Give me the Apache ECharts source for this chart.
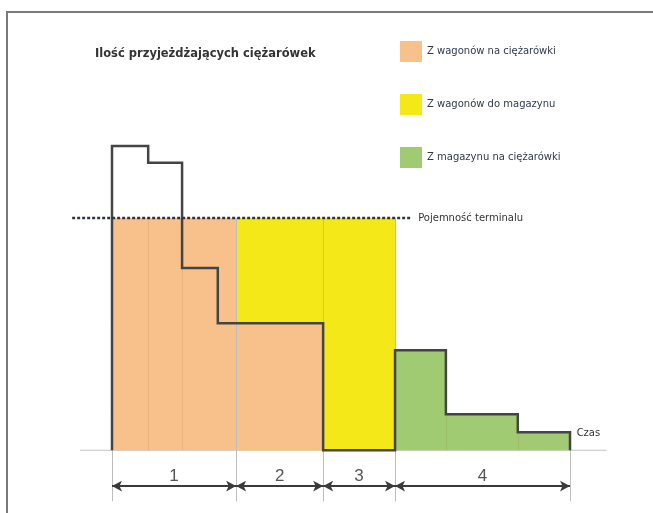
<!DOCTYPE html>
<html lang="pl">
<head>
    <meta charset="UTF-8">
    <title>Ilość przyjeżdżających ciężarówek</title>
    <style>
        * { padding: 0; margin: 0; }
        html, body { width: 100%; height: 100%; background: #fff; }
        #main { width: 653px; height: 513px; }
    </style>
</head>
<body>
    <div id="main"></div>
    <script src="https://cdn.jsdelivr.net/npm/echarts@6/dist/echarts.min.js"></script>
    <script>
        // czas w umownych jednostkach 0..100, ilość w % pojemności terminalu
        var capacity = 100;
        var phaseEdges = [0, 27.1, 46.1, 61.8, 100];
        var phaseLabels = ['1', '2', '3', '4'];
        // schodki przyjazdów: [od, do, ilość]
        var arrivals = [
            [0, 7.9, 131], [7.9, 15.3, 123.7], [15.3, 23.1, 78.4], [23.1, 46.1, 54.7],
            [46.1, 61.8, 0], [61.8, 72.9, 43.1], [72.9, 88.6, 15.5], [88.6, 100, 7.8]
        ];
        var wagonsToTrucks = [[0, 27.1, 100], [27.1, 46.1, 54.7]];
        var wagonsToStore = [[27.1, 61.8, 100]];
        var storeToTrucks = [[61.8, 72.9, 43.1], [72.9, 88.6, 15.5], [88.6, 100, 7.8]];
        var seriesNames = ['Z wagonów na ciężarówki', 'Z wagonów do magazynu', 'Z magazynu na ciężarówki'];
        var seriesColors = ['#F8C18C', '#F5E819', '#A0CB73'];

        // zamiana schodków na łamaną
        function stepPoints(steps, closed) {
            var pts = [];
            if (closed) pts.push([steps[0][0], 0]);
            steps.forEach(function (s) {
                pts.push([s[0], s[2]]);
                pts.push([s[1], s[2]]);
            });
            pts.push([steps[steps.length - 1][1], 0]);
            return pts;
        }

        var myChart = echarts.init(document.getElementById('main'));

        function areaSeries(name, steps, color, z) {
            return {
                name: name,
                type: 'line',
                data: stepPoints(steps, false),
                symbol: 'none',
                color: color,
                z: z,
                lineStyle: { width: 0 },
                areaStyle: { color: color, opacity: 1 }
            };
        }

        // cienkie pionowe linie podziału faz i schodków
        var dividers = phaseEdges.map(function (x) {
            var top = capacity;
            if (x === 100) top = arrivals[arrivals.length - 1][2];
            return [{ coord: [x, top] }, { coord: [x, -22] }];
        });
        var innerEdges = [[7.9, 100], [15.3, 100], [72.9, 15.5], [88.6, 7.8]].map(function (e) {
            return [{ coord: [e[0], e[1]] }, { coord: [e[0], 0] }];
        });
        var arrows = phaseLabels.map(function (lab, i) {
            return [{ coord: [phaseEdges[i], -15.4], name: lab }, { coord: [phaseEdges[i + 1], -15.4] }];
        });

        var option = {
            animation: false,
            backgroundColor: '#fff',
            title: {
                text: 'Ilość przyjeżdżających ciężarówek',
                left: 90,
                top: 43,
                textStyle: { color: '#333', fontSize: 11.5, fontWeight: 'bold', fontFamily: 'DejaVu Sans' }
            },
            legend: {
                data: seriesNames,
                orient: 'vertical',
                left: 395,
                top: 36,
                itemWidth: 22,
                itemHeight: 21,
                itemGap: 32,
                icon: 'rect',
                selectedMode: false,
                textStyle: { color: '#2e3a4a', fontSize: 10, fontFamily: 'DejaVu Sans' }
            },
            grid: { left: 66.2, right: 37.2, top: 125, bottom: 0 },
            xAxis: { type: 'value', min: -10, max: 110, show: false },
            yAxis: { type: 'value', min: -27, max: 140, show: false },
            graphic: [{
                type: 'rect',
                shape: { x: 7, y: 12, width: 700, height: 600 },
                style: { fill: 'none', stroke: '#7a7a7a', lineWidth: 2 },
                silent: true
            }],
            series: [
                areaSeries(seriesNames[1], wagonsToStore, seriesColors[1], 2),
                areaSeries(seriesNames[0], wagonsToTrucks, seriesColors[0], 3),
                areaSeries(seriesNames[2], storeToTrucks, seriesColors[2], 3),
                {
                    name: 'oś',
                    type: 'line',
                    data: [[-7, 0], [108, 0]],
                    symbol: 'none',
                    z: 1,
                    lineStyle: { color: '#c4c4c4', width: 1 },
                    endLabel: {
                        show: true,
                        formatter: 'Czas',
                        offset: [-38, -17],
                        color: '#333',
                        fontSize: 10,
                        fontFamily: 'DejaVu Sans'
                    },
                    markLine: {
                        silent: true,
                        symbol: 'none',
                        label: { show: false },
                        lineStyle: { color: '#bdbdbd', width: 1, type: 'solid' },
                        data: dividers
                    }
                },
                {
                    name: 'krawędzie',
                    type: 'line',
                    data: [],
                    z: 4,
                    markLine: {
                        silent: true,
                        symbol: 'none',
                        label: { show: false },
                        lineStyle: { color: 'rgba(150,110,70,0.15)', width: 1, type: 'solid' },
                        data: innerEdges
                    }
                },
                {
                    name: 'przyjazdy',
                    type: 'line',
                    data: stepPoints(arrivals, true),
                    symbol: 'none',
                    z: 5,
                    lineStyle: { color: '#444', width: 2.5, join: 'miter' }
                },
                {
                    name: 'pojemność',
                    type: 'line',
                    data: [[-8.7, capacity], [65.1, capacity]],
                    symbol: 'none',
                    z: 6,
                    lineStyle: { color: '#2b3544', width: 2.5, type: [3, 2] },
                    endLabel: {
                        show: true,
                        formatter: 'Pojemność terminalu',
                        distance: 8,
                        color: '#333',
                        fontSize: 10,
                        fontFamily: 'DejaVu Sans'
                    }
                },
                {
                    name: 'fazy',
                    type: 'line',
                    data: [],
                    z: 6,
                    markLine: {
                        silent: true,
                        symbol: ['arrow', 'arrow'],
                        symbolSize: [8, 10],
                        lineStyle: { color: '#3a3a3a', width: 2, type: 'solid' },
                        label: {
                            show: true,
                            position: 'middle',
                            formatter: '{b}',
                            color: '#555',
                            fontSize: 17,
                            distance: 1,
                            fontFamily: 'Liberation Sans'
                        },
                        data: arrows
                    }
                }
            ]
        };
        myChart.setOption(option);
    </script>
</body>
</html>
